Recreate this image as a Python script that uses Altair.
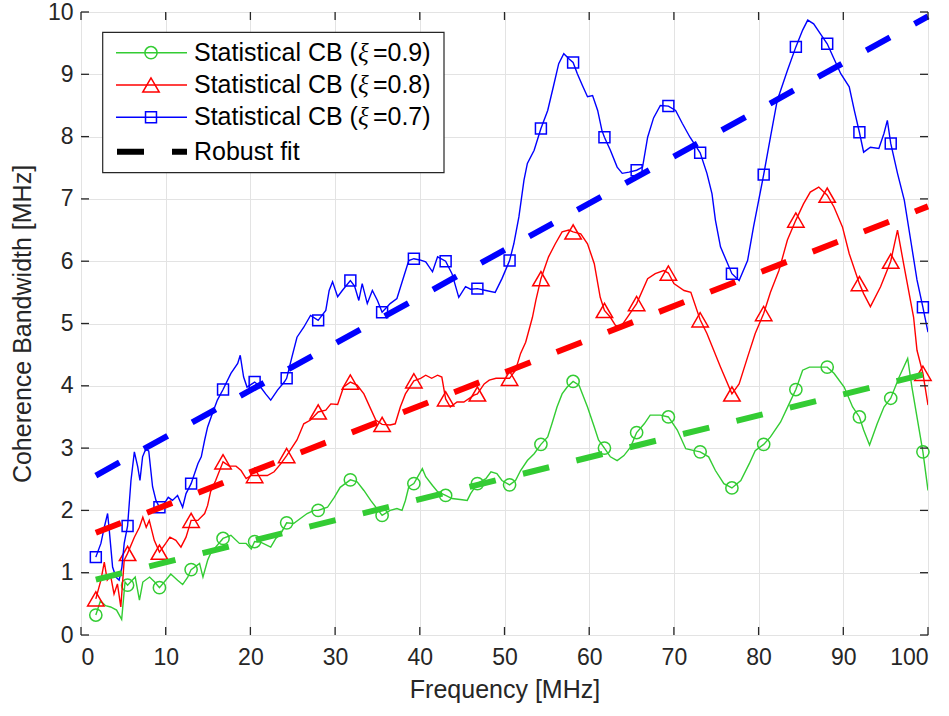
import altair as alt
import pandas as pd

# ---------------- data ----------------
green_f = [1.75, 2.3, 2.9, 3.5, 4.2, 4.8, 5.2, 5.5, 6.4, 6.9, 7.3, 8.1, 8.7, 9.26, 10.0, 10.6, 11.4, 12.0, 12.6, 13.0,
           14.0, 14.4, 14.95, 15.3, 15.9, 16.77, 17.7, 18.7, 19.5, 20.1, 20.5, 21.2, 22.4, 23.0, 23.6, 24.28, 25.1, 25.9,
           26.7, 27.5, 28.0, 29.1, 29.9, 30.6, 31.8, 32.6, 33.4, 34.2, 35.55, 36.5, 37.3, 37.9, 38.3, 38.7, 39.3, 40.3,
           40.7, 41.5, 42.1, 43.05, 43.8, 45.0, 45.6, 46.0, 46.8, 47.8, 48.4, 49.1, 49.7, 50.6, 51.3, 51.9, 52.7, 53.5,
           54.3, 55.1, 55.6, 56.2, 56.8, 57.4, 58.1, 58.8, 59.2, 59.8, 60.6, 61.1, 61.8, 62.5, 63.3, 64.1, 64.9, 65.6,
           66.5, 67.2, 68.4, 69.35, 70.4, 71.4, 72.4, 73.1, 74.1, 74.9, 75.9, 76.85, 77.9, 78.9, 79.6, 80.6, 81.4, 82.6,
           83.6, 84.4, 85.2, 86.0, 86.9, 88.1, 88.9, 90.1, 91.1, 91.9, 92.4, 93.1, 94.0, 94.8, 95.6, 96.6, 97.6, 98.1,
           99.4, 100.0]
green_v = [0.32, 0.55, 0.47, 0.45, 0.40, 0.25, 0.85, 0.80, 0.93, 0.56, 0.85, 0.93, 0.85, 0.76, 0.88, 0.98, 0.88, 0.81, 0.93, 1.05,
           1.15, 0.93, 1.20, 1.31, 1.41, 1.55, 1.60, 1.47, 1.47, 1.38, 1.50, 1.49, 1.41, 1.55, 1.63, 1.80, 1.79, 1.87,
           1.95, 2.00, 2.00, 2.05, 2.21, 2.37, 2.49, 2.46, 2.32, 2.16, 1.92, 2.00, 2.03, 2.00, 2.16, 2.38, 2.43, 2.67,
           2.54, 2.40, 2.30, 2.24, 2.19, 2.17, 2.16, 2.27, 2.43, 2.51, 2.62, 2.59, 2.48, 2.41, 2.48, 2.64, 2.80, 2.91,
           3.06, 3.18, 3.39, 3.66, 3.87, 3.98, 4.07, 4.01, 3.87, 3.66, 3.34, 3.13, 3.00, 2.86, 2.80, 2.88, 3.02, 3.25,
           3.39, 3.53, 3.53, 3.50, 3.29, 2.99, 2.96, 2.94, 2.86, 2.64, 2.43, 2.36, 2.48, 2.75, 2.96, 3.06, 3.18, 3.42,
           3.71, 3.94, 4.25, 4.30, 4.30, 4.30, 4.20, 3.98, 3.66, 3.50, 3.29, 3.05, 3.39, 3.66, 3.80, 4.14, 4.44, 3.98,
           2.94, 2.32]

red_f = [1.75, 2.35, 2.75, 3.1, 3.5, 3.9, 4.3, 4.7, 5.1, 5.5, 6.3, 6.9, 7.3, 7.7, 8.06, 8.65, 9.26, 10.0, 10.5, 11.2,
         11.8, 12.4, 13.0, 13.8, 14.6, 14.95, 15.3, 15.9, 16.77, 17.5, 18.3, 18.9, 19.5, 20.1, 20.5, 22.0, 22.8, 23.6,
         24.28, 25.5, 26.3, 27.1, 28.0, 28.9, 29.5, 30.3, 31.0, 31.8, 32.6, 33.4, 34.2, 34.8, 35.55, 36.5, 37.1, 37.7,
         38.3, 39.3, 40.1, 40.7, 41.4, 42.1, 42.6, 43.05, 43.6, 44.4, 45.2, 46.4, 46.8, 47.6, 48.2, 49.0, 49.7, 50.6,
         51.3, 51.9, 52.5, 53.3, 53.7, 54.3, 55.2, 56.0, 56.8, 57.6, 58.1, 59.0, 59.8, 60.6, 61.3, 61.8, 62.5, 63.1,
         63.7, 64.5, 65.6, 66.9, 67.8, 68.8, 69.35, 70.0, 71.2, 72.0, 73.1, 73.9, 74.7, 75.5, 76.85, 77.7, 78.7, 79.6,
         80.6, 81.4, 82.4, 83.4, 84.4, 85.3, 86.1, 87.1, 88.1, 88.9, 89.9, 90.7, 91.9, 92.4, 93.2, 94.4, 95.6, 96.4,
         97.2, 98.3, 98.7, 99.4, 100.0]
red_v = [0.58, 0.88, 1.17, 0.88, 0.95, 0.66, 0.82, 0.45, 1.20, 1.31, 1.57, 1.73, 1.89, 1.73, 1.84, 1.52, 1.33, 1.47, 1.57, 1.52,
         1.41, 1.57, 1.84, 1.84, 1.95, 2.08, 2.30, 2.48, 2.78, 2.71, 2.71, 2.64, 2.51, 2.56, 2.56, 2.56, 2.62, 2.75,
         2.88, 3.13, 3.39, 3.45, 3.58, 3.61, 3.71, 3.70, 3.98, 4.06, 4.01, 3.87, 3.63, 3.45, 3.38, 3.37, 3.39, 3.66,
         3.87, 4.08, 4.12, 4.17, 4.12, 4.17, 4.14, 3.79, 3.66, 3.74, 3.74, 3.85, 3.87, 4.03, 4.09, 4.12, 4.12, 4.12,
         4.25, 4.52, 4.70, 5.10, 5.37, 5.72, 6.07, 6.28, 6.47, 6.50, 6.47, 6.44, 6.28, 5.96, 5.42, 5.21, 5.10, 4.97,
         4.94, 5.10, 5.32, 5.72, 5.80, 5.85, 5.81, 5.64, 5.53, 5.50, 5.06, 4.84, 4.57, 4.30, 3.87, 4.03, 4.46, 4.84,
         5.16, 5.50, 5.85, 6.34, 6.66, 6.92, 7.11, 7.19, 7.06, 6.87, 6.55, 6.12, 5.64, 5.48, 5.27, 5.59, 6.00, 6.50,
         5.90, 5.10, 4.57, 4.20, 3.69]

blue_f = [1.75, 2.35, 2.75, 3.14, 3.34, 3.73, 4.12, 4.5, 4.83, 5.1, 5.5, 5.9, 6.3, 6.7, 6.96, 7.27, 7.66, 8.0, 8.45, 8.85,
          9.26, 9.83, 10.3, 10.8, 11.4, 12.0, 12.4, 13.0, 13.8, 14.2, 14.6, 14.95, 15.5, 16.1, 16.77, 17.7, 18.5, 18.8,
          19.2, 19.6, 20.5, 21.2, 21.8, 22.4, 23.2, 24.0, 24.28, 24.9, 25.5, 26.3, 27.1, 28.0, 28.9, 29.3, 29.7, 30.3,
          30.85, 31.8, 32.3, 32.8, 33.2, 33.8, 34.4, 35.0, 35.55, 36.5, 37.3, 38.1, 38.7, 39.3, 40.0, 40.7, 41.5, 42.1,
          43.05, 43.8, 44.6, 45.4, 46.0, 46.8, 47.8, 48.9, 49.7, 50.6, 51.1, 51.7, 52.3, 52.7, 53.5, 54.3, 55.1, 55.8,
          56.4, 57.0, 57.6, 58.1, 58.6, 59.2, 59.8, 60.4, 61.0, 61.5, 61.8, 62.5, 63.3, 63.9, 64.7, 65.6, 66.3, 66.9,
          67.6, 68.4, 69.35, 70.2, 71.0, 71.9, 73.1, 73.9, 74.5, 74.9, 75.5, 76.85, 77.7, 78.7, 79.4, 80.6, 81.4, 82.2,
          83.4, 84.4, 85.2, 85.8, 86.5, 87.3, 88.1, 88.9, 89.7, 90.7, 91.3, 91.9, 92.4, 93.2, 94.2, 94.8, 95.2, 95.6,
          96.4, 97.2, 98.0, 98.7, 99.4, 100.0]
blue_v = [1.25, 1.47, 1.73, 1.95, 1.68, 1.09, 0.93, 0.88, 1.09, 1.47, 1.75, 2.48, 2.94, 2.70, 2.48, 2.86, 2.99, 2.95, 2.38, 2.16,
          2.05, 2.11, 2.21, 2.16, 2.24, 2.05, 2.27, 2.43, 2.75, 2.86, 3.13, 3.34, 3.55, 3.77, 3.94, 4.20, 4.36, 4.49,
          4.14, 3.98, 4.06, 3.98, 3.87, 3.77, 3.93, 4.06, 4.12, 4.46, 4.78, 4.94, 5.13, 5.05, 5.21, 5.53, 5.67, 5.43,
          5.53, 5.69, 5.60, 5.37, 5.64, 5.32, 5.53, 5.37, 5.18, 5.32, 5.40, 5.75, 6.01, 6.04, 6.02, 5.99, 5.83, 6.07,
          6.00, 5.80, 5.42, 5.59, 5.55, 5.56, 5.53, 5.50, 5.72, 6.01, 6.28, 6.71, 7.30, 7.57, 7.78, 8.13, 8.42, 8.82,
          9.17, 9.33, 9.25, 9.19, 9.01, 8.82, 8.64, 8.66, 8.42, 8.10, 7.99, 7.78, 7.51, 7.41, 7.43, 7.46, 7.51, 7.99,
          8.30, 8.50, 8.49, 8.42, 8.21, 7.99, 7.74, 7.41, 7.08, 6.66, 6.23, 5.80, 5.69, 6.01, 6.55, 7.39, 7.99, 8.58,
          9.06, 9.44, 9.71, 9.87, 9.81, 9.65, 9.49, 9.25, 9.01, 8.80, 8.42, 8.07, 7.75, 7.83, 7.81, 8.05, 8.26, 7.89,
          7.41, 6.98, 6.30, 5.70, 5.26, 4.86]

marker_f = [1.75, 5.5, 9.26, 13.0, 16.77, 20.5, 24.28, 28.0, 31.8, 35.55, 39.3, 43.05, 46.8, 50.6, 54.3,
            58.1, 61.8, 65.6, 69.35, 73.1, 76.85, 80.6, 84.4, 88.1, 91.9, 95.6, 99.4]
green_m = [0.32, 0.80, 0.76, 1.05, 1.55, 1.50, 1.80, 2.00, 2.49, 1.92, 2.43, 2.24, 2.43, 2.41, 3.06,
           4.07, 3.00, 3.25, 3.50, 2.94, 2.36, 3.06, 3.94, 4.30, 3.50, 3.80, 2.94]
red_m = [0.58, 1.31, 1.33, 1.84, 2.78, 2.56, 2.88, 3.58, 4.06, 3.38, 4.08, 3.79, 3.87, 4.12, 5.72,
         6.47, 5.21, 5.32, 5.81, 5.06, 3.87, 5.16, 6.66, 7.06, 5.64, 6.00, 4.20]
blue_m = [1.25, 1.75, 2.05, 2.43, 3.94, 4.06, 4.12, 5.05, 5.69, 5.18, 6.04, 6.00, 5.56, 6.01, 8.13,
          9.19, 7.99, 7.46, 8.49, 7.74, 5.80, 7.39, 9.44, 9.49, 8.07, 7.89, 5.26]

fit_f = [1.75, 100.0]
green_fit = [0.89, 4.20]
red_fit = [1.64, 6.88]
blue_fit = [2.56, 9.93]

x_ticks = [0, 10, 20, 30, 40, 50, 60, 70, 80, 90, 100]
y_ticks = [0, 1, 2, 3, 4, 5, 6, 7, 8, 9, 10]

legend_prefix = "Statistical CB ("
legend_xi = "ξ"
legend_suffix = ["=0.9)", "=0.8)", "=0.7)"]
legend_fit = "Robust fit"

# ---------------- styling ----------------
W, H = 847, 623
FONT = "Liberation Sans"
DARK = "#262626"
GREEN, RED, BLUE = "#33cc33", "#ff0000", "#0000ff"
LFS = 25  # legend font size

xs = alt.Scale(domain=[0, 100], nice=False, zero=False)
ys = alt.Scale(domain=[0, 10], nice=False, zero=False)
common_axis = dict(grid=True, ticks=False, domain=False, gridColor="#e3e3e3", gridWidth=1,
                   labelFont=FONT, titleFont=FONT, labelFontSize=23, titleFontSize=25,
                   labelColor=DARK, titleColor=DARK, titleFontWeight="normal")
xax = alt.Axis(title="Frequency [MHz]", values=x_ticks, labelPadding=11, titlePadding=8, **common_axis)
yax = alt.Axis(title="Coherence Bandwidth [MHz]", values=y_ticks, labelPadding=8, titlePadding=12, **common_axis)


def X():
    return alt.X("f:Q", scale=xs, axis=xax)


def Y():
    return alt.Y("v:Q", scale=ys, axis=yax)


layers = []
series = [(green_f, green_v, green_m, green_fit, GREEN, "circle", 150),
          (red_f, red_v, red_m, red_fit, RED, "triangle-up", 270),
          (blue_f, blue_v, blue_m, blue_fit, BLUE, "square", 120)]

for f, v, m, fit, col, shape, size in series:
    df = pd.DataFrame({"f": f, "v": v, "o": list(range(len(f)))})
    layers.append(alt.Chart(df).mark_line(color=col, strokeWidth=1.4, clip=True)
                  .encode(x=X(), y=Y(), order="o:Q"))
    dm = pd.DataFrame({"f": marker_f, "v": m})
    layers.append(alt.Chart(dm).mark_point(shape=shape, size=size, filled=False, color=col,
                                           strokeWidth=1.5, opacity=1)
                  .encode(x=X(), y=Y()))

for f, v, m, fit, col, shape, size in series:
    dfit = pd.DataFrame({"f": fit_f, "v": fit})
    layers.append(alt.Chart(dfit).mark_line(color=col, strokeWidth=6, strokeDash=[27, 28],
                                            strokeCap="butt")
                  .encode(x=X(), y=Y()))

# inward ticks on all four sides
dxt = pd.DataFrame({"f": x_ticks})
dyt = pd.DataFrame({"v": y_ticks})
TL = 8
layers.append(alt.Chart(dxt).mark_rule(color=DARK, strokeWidth=1.3)
              .encode(x=X(), y=alt.value(H), y2=alt.value(H - TL)))
layers.append(alt.Chart(dxt).mark_rule(color=DARK, strokeWidth=1.3)
              .encode(x=X(), y=alt.value(0), y2=alt.value(TL)))
layers.append(alt.Chart(dyt).mark_rule(color=DARK, strokeWidth=1.3)
              .encode(y=Y(), x=alt.value(0), x2=alt.value(TL)))
layers.append(alt.Chart(dyt).mark_rule(color=DARK, strokeWidth=1.3)
              .encode(y=Y(), x=alt.value(W), x2=alt.value(W - TL)))

# legend built by hand
one = pd.DataFrame({"a": [0]})
layers.append(alt.Chart(one).mark_rect(fill="white", stroke=DARK, strokeWidth=1.2)
              .encode(x=alt.value(21.7), x2=alt.value(363), y=alt.value(20.3), y2=alt.value(160.7)))
rows_y = [40.7, 73.0, 105.3, 139.7]
TX = 113
PREFIX_W = 6.757 * LFS - 5   # advance after "Statistical CB ("
SUFFIX_X = 6.757 * LFS + 10
for i, yy in enumerate(rows_y):
    if i < 3:
        col, shape, size = series[i][4], series[i][5], series[i][6]
        layers.append(alt.Chart(one).mark_rule(color=col, strokeWidth=1.4)
                      .encode(x=alt.value(35), x2=alt.value(106), y=alt.value(yy)))
        layers.append(alt.Chart(one).mark_point(shape=shape, size=size, filled=False, color=col,
                                                strokeWidth=1.5, opacity=1)
                      .encode(x=alt.value(70), y=alt.value(yy)))
        layers.append(alt.Chart(one).mark_text(align="left", baseline="middle", font=FONT, fontSize=LFS,
                                               color="black")
                      .encode(x=alt.value(TX), y=alt.value(yy), text=alt.value(legend_prefix)))
        layers.append(alt.Chart(one).mark_text(align="left", baseline="middle", font="Liberation Serif",
                                               fontStyle="italic", fontSize=LFS, color="black")
                      .encode(x=alt.value(TX + PREFIX_W), y=alt.value(yy), text=alt.value(legend_xi)))
        layers.append(alt.Chart(one).mark_text(align="left", baseline="middle", font=FONT, fontSize=LFS,
                                               color="black")
                      .encode(x=alt.value(TX + SUFFIX_X), y=alt.value(yy),
                              text=alt.value(legend_suffix[i])))
    else:
        layers.append(alt.Chart(one).mark_rule(color="black", strokeWidth=6, strokeDash=[27, 28],
                                               strokeCap="butt")
                      .encode(x=alt.value(36), x2=alt.value(106), y=alt.value(yy)))
        layers.append(alt.Chart(one).mark_text(align="left", baseline="middle", font=FONT, fontSize=LFS,
                                               color="black")
                      .encode(x=alt.value(TX), y=alt.value(yy), text=alt.value(legend_fit)))

chart = (alt.layer(*layers)
         .properties(width=W, height=H, autosize=alt.AutoSizeParams(type="none"),
                     padding={"left": 81, "top": 12, "right": 21, "bottom": 81})
         .configure_view(stroke=DARK, strokeWidth=1.4)
         .configure(background="white"))

chart.save("out.html", embed_options={"renderer": "svg", "actions": False})
